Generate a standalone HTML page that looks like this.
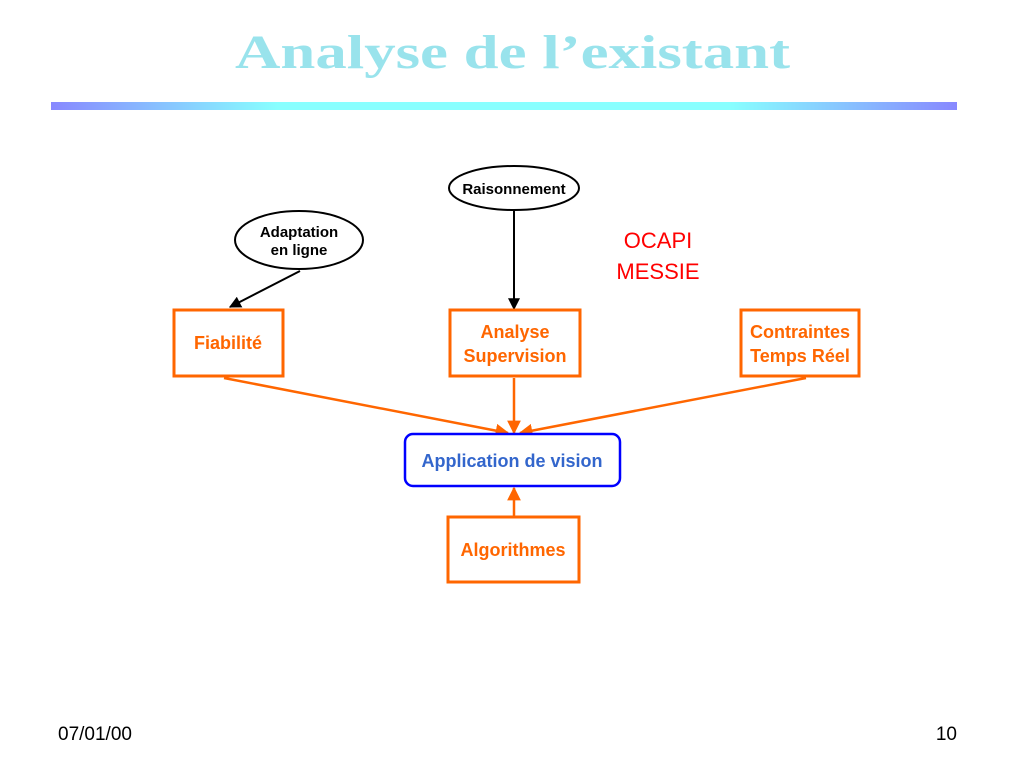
<!DOCTYPE html>
<html><head><meta charset="utf-8"><style>
body{margin:0;width:1024px;height:768px;background:#fff;overflow:hidden;position:relative;font-family:"Liberation Sans",sans-serif}
</style></head><body>
<svg width="1024" height="768" style="position:absolute;left:0;top:0">
<defs>
<linearGradient id="g" x1="0" x2="1"><stop offset="0" stop-color="#8888ff"/><stop offset="0.25" stop-color="#88ffff"/><stop offset="0.75" stop-color="#88ffff"/><stop offset="1" stop-color="#8888ff"/></linearGradient>
<marker id="ab" viewBox="0 0 10 10" refX="9" refY="5" markerWidth="6" markerHeight="6" orient="auto"><path d="M0,0L10,5L0,10z" fill="#000"/></marker>
<marker id="ao" viewBox="0 0 10 10" refX="9" refY="5" markerWidth="5.5" markerHeight="5.5" orient="auto"><path d="M0,0L10,5L0,10z" fill="#ff6600"/></marker>
</defs>
<text x="235" y="68" textLength="555" lengthAdjust="spacingAndGlyphs" font-family="Liberation Serif" font-weight="bold" font-size="48" fill="#99e3ec">Analyse de l’existant</text>
<rect x="51" y="102" width="906" height="8" fill="url(#g)"/>
<ellipse cx="514" cy="188" rx="65" ry="22" fill="#fff" stroke="#000" stroke-width="2"/>
<text x="514" y="194" text-anchor="middle" font-size="15" font-weight="bold">Raisonnement</text>
<ellipse cx="299" cy="240" rx="64" ry="29" fill="#fff" stroke="#000" stroke-width="2"/>
<text x="299" y="237" text-anchor="middle" font-size="15" font-weight="bold">Adaptation</text>
<text x="299" y="255" text-anchor="middle" font-size="15" font-weight="bold">en ligne</text>
<line x1="300" y1="271" x2="230" y2="307" stroke="#000" stroke-width="2" marker-end="url(#ab)"/>
<line x1="514" y1="211" x2="514" y2="309" stroke="#000" stroke-width="2" marker-end="url(#ab)"/>
<g fill="none" stroke="#ff6600" stroke-width="3">
<rect x="174" y="310" width="109" height="66"/>
<rect x="450" y="310" width="130" height="66"/>
<rect x="741" y="310" width="118" height="66"/>
<rect x="448" y="517" width="131" height="65"/>
</g>
<g stroke="#ff6600" stroke-width="2.5">
<line x1="224" y1="378" x2="508" y2="433" marker-end="url(#ao)"/>
<line x1="514" y1="378" x2="514" y2="433" marker-end="url(#ao)"/>
<line x1="806" y1="378" x2="520" y2="433" marker-end="url(#ao)"/>
<line x1="514" y1="516" x2="514" y2="488" marker-end="url(#ao)"/>
</g>
<rect x="405" y="434" width="215" height="52" rx="8" fill="#fff" stroke="#0000ff" stroke-width="2.5"/>
<g font-weight="bold" font-size="18" fill="#ff6600" text-anchor="middle">
<text x="228" y="349">Fiabilité</text>
<text x="515" y="338">Analyse</text>
<text x="515" y="362">Supervision</text>
<text x="800" y="338">Contraintes</text>
<text x="800" y="362">Temps Réel</text>
<text x="513" y="556">Algorithmes</text>
</g>
<text x="512" y="467" text-anchor="middle" font-weight="bold" font-size="18" fill="#3366cc">Application de vision</text>
<text x="658" y="248" text-anchor="middle" font-size="22" fill="#ff0000">OCAPI</text>
<text x="658" y="279" text-anchor="middle" font-size="22" fill="#ff0000">MESSIE</text>
<text x="58" y="740" font-size="19" fill="#000">07/01/00</text>
<text x="957" y="740" text-anchor="end" font-size="19" fill="#000">10</text>
</svg>
</body></html>
